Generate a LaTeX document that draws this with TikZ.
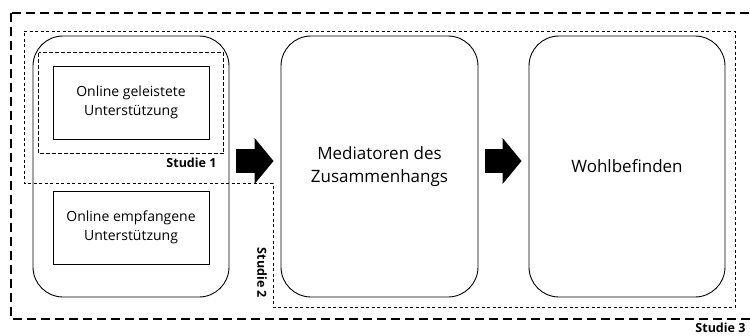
\documentclass[tikz,border=0pt]{standalone}
\usepackage{fontspec}
\setmainfont{Open Sans}
\usetikzlibrary{arrows.meta,positioning,calc}

\begin{document}
\begin{tikzpicture}[x=1pt,y=-1pt,
  stage/.style={draw, rounded corners=30pt, line width=0.9pt, minimum width=196pt, minimum height=261pt, align=center, font=\fontsize{17}{23}\selectfont},
  item/.style={draw, line width=1pt, minimum width=156pt, minimum height=73pt, align=center, font=\fontsize{14}{19}\selectfont},
  studylabel/.style={font=\bfseries\fontsize{12.5}{14}\selectfont},
  blockarrow/.style={line width=24pt, -{Triangle[length=19pt,width=45pt]}, shorten <=7pt, shorten >=7pt}]
\useasboundingbox (0,0) rectangle (750,335);
% Stages of the model
\node[stage] (support) at (131,166.5) {};
\node[stage, minimum width=197pt] (mediators) at (379.5,166.5) {Mediatoren des\\Zusammenhangs};
\node[stage] (wellbeing) at (627,166.5) {Wohlbefinden};
% Kinds of online support
\node[item] (given) at (131,102.5) {Online geleistete\\Unterstützung};
\node[item] (received) at (131,227.5) {Online empfangene\\Unterstützung};
% Arrows between stages
\draw[blockarrow] ([yshift=5.5pt]support.east) -- ([yshift=5.5pt]mediators.west);
\draw[blockarrow] ([yshift=5.5pt]mediators.east) -- ([yshift=5.5pt]wellbeing.west);
% Study 1
\draw[line width=1.2pt, dash pattern=on 4pt off 2pt]
  ($(given.north west)+(-14,-13)$) rectangle ($(given.south east)+(14,14)$);
\node[studylabel, anchor=east] at (220,163) {Studie 1};
% Study 2
\draw[line width=0.8pt, dash pattern=on 3pt off 2.5pt]
  (24,31) -- (735,31) -- (735,307) -- (273,307) -- (273,183) -- (24,183) -- cycle;
\node[studylabel, rotate=-90] at (262,273) {Studie 2};
% Study 3
\draw[line width=1.4pt, dash pattern=on 9pt off 5pt] (11,13) rectangle (760,319);
\node[studylabel, anchor=east] at (749,328) {Studie 3};
\end{tikzpicture}
\end{document}
